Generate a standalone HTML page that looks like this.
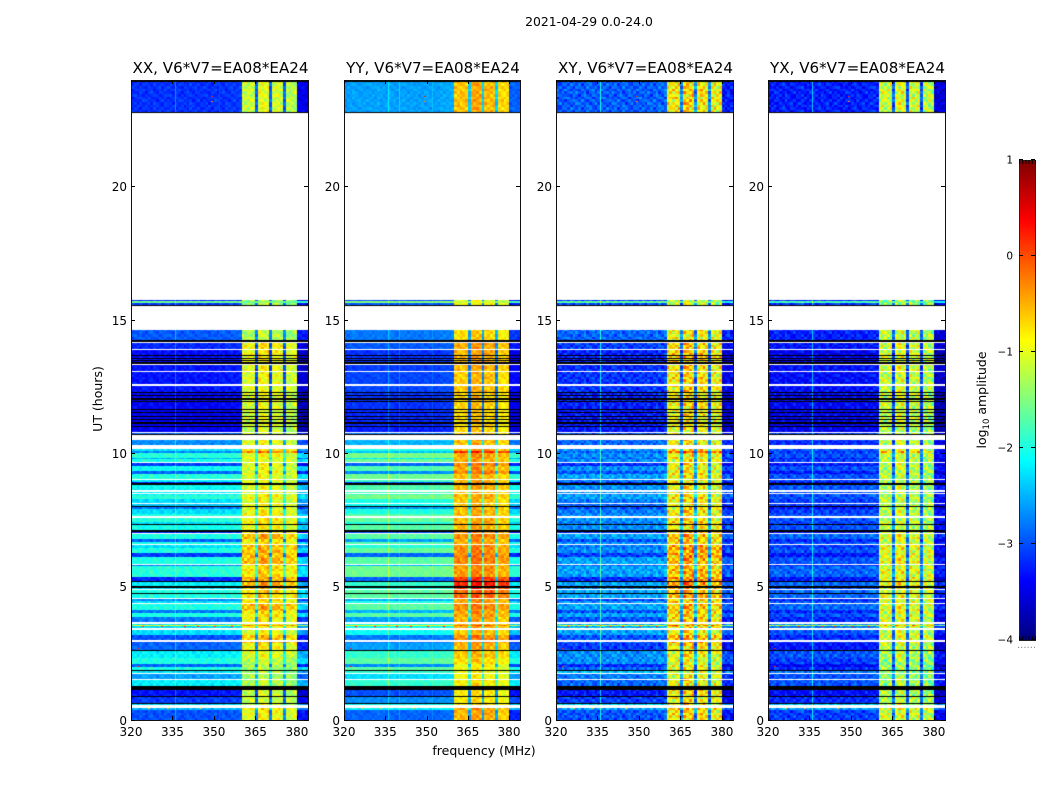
<!DOCTYPE html>
<html>
<head>
<meta charset="utf-8">
<title>2021-04-29 0.0-24.0</title>
<style>
html,body{margin:0;padding:0;background:#fff;width:1050px;height:800px;overflow:hidden}
#figure{position:relative;width:1050px;height:800px;background:#fff}
canvas{position:absolute;top:80px;display:block}
svg{position:absolute;left:0;top:0}
text{font-family:"DejaVu Sans","Liberation Sans",sans-serif;fill:#000}
</style>
</head>
<body>
<div id="figure">
<canvas id="c0" width="177" height="640" style="left:131px"></canvas>
<canvas id="c1" width="176" height="640" style="left:344px"></canvas>
<canvas id="c2" width="177" height="640" style="left:556px"></canvas>
<canvas id="c3" width="177" height="640" style="left:768px"></canvas>
<svg id="overlay" width="1050" height="800" viewBox="0 0 1050 800" xmlns="http://www.w3.org/2000/svg">
<text x="589" y="26" text-anchor="middle" font-size="12.4">2021-04-29 0.0-24.0</text>
<text x="484" y="755" text-anchor="middle" font-size="12.5">frequency (MHz)</text>
<text transform="translate(102,399) rotate(-90)" text-anchor="middle" font-size="12.5">UT (hours)</text>
<text transform="translate(986,400) rotate(-90)" text-anchor="middle" font-size="12.5">log<tspan font-size="8.5" dy="3">10</tspan><tspan dy="-3"> amplitude</tspan></text>
<g id="axes-layer"></g>
<g id="colorbar-layer"></g>
</svg>
</div>
<script>
// ---- axis tick data ----
const freqTicks = [320, 335, 350, 365, 380];
const hourTicks = [0, 5, 10, 15, 20];
const colorTicks = [1, 0, -1, -2, -3, -4];
const colorTickLabels = ['1', '0', '\u22121', '\u22122', '\u22123', '\u22124'];
const panelTitles = ['XX, V6*V7=EA08*EA24', 'YY, V6*V7=EA08*EA24', 'XY, V6*V7=EA08*EA24', 'YX, V6*V7=EA08*EA24'];

// ---- time strips: upper edge of each strip in UT hours ----
const stripTopHour = [.36,.45,.58,.86,1.11,1.48,1.72,1.84,1.97,2.08,2.31,2.61,2.87,3.17,3.36,3.49,3.54,3.64,3.84,4.01,4.10,4.33,4.44,4.55,4.85,5.00,5.19,5.34,5.74,5.83,6.11,6.26,6.43,6.58,6.67,6.77,6.99,7.10,7.29,7.40,7.63,7.70,7.89,8.00,8.12,8.27,8.42,8.64,8.83,8.90,9.02,9.22,9.32,9.50,9.62,9.75,9.82,10.00,10.07,10.14,10.48,10.78,10.97,11.64,12.28,13.03,13.29,13.89,14.23,14.60,15.63,15.69,15.75,23.90];

// ---- log10 amplitude outside the bright band, per strip ----
const lowXX = [-3,-2.5,-2.3,-3.1,-3.3,-2.2,-2.6,-2.25,-2,-2.9,-2,-2.2,-2.9,-3,-2.3,-2.3,-1,-2.3,-2.8,-2,-2.8,-2,-2.3,-2.7,-2,-2.3,-2.2,-3.2,-1.95,-2.8,-2,-3.1,-2,-2.3,-2,-2.9,-2,-3.2,-2.05,-2.3,-1.95,-2,-2.3,-2.8,-2.4,-2.3,-1.95,-2.2,-2.1,-3.2,-2.2,-1.95,-2.9,-2.1,-3.1,-2,-2.5,-1.95,-2.7,-2.3,-2.7,-2.9,-3.45,-3.45,-3.4,-3.3,-3.3,-3.35,-3.2,-2.95,-3.1,-1.6,-3.2,-3.15];
const lowYY = [-2.9,-2.2,-2.1,-2.7,-3,-1.9,-2.3,-1.9,-1.7,-2.7,-1.7,-1.9,-2.6,-2.8,-2.1,-2.1,-.9,-2.1,-2.6,-1.7,-2.5,-1.7,-2,-2.5,-1.7,-2,-1.9,-2.9,-1.6,-2.5,-1.7,-2.9,-1.65,-1.95,-1.7,-2.6,-1.7,-3,-1.7,-2,-1.65,-1.7,-2,-2.6,-2.1,-2,-1.55,-1.8,-1.75,-3,-1.85,-1.6,-2.7,-1.75,-2.9,-1.65,-2.2,-1.55,-2.4,-2,-2.5,-2.8,-3.25,-3.2,-3.15,-3.05,-3.1,-3.15,-2.95,-2.8,-2.95,-1.5,-3.05,-2.6];
const lowXY = [-3,-2.6,-2.3,-3.1,-3.3,-2.9,-2.8,-2.4,-2.9,-3.2,-2.7,-2.7,-3.1,-3,-2.6,-2.5,-1.1,-2.5,-3,-2.6,-3,-2.6,-2.7,-3,-2.6,-2.7,-2.6,-3.2,-2.6,-2.9,-2.6,-3.1,-2.7,-2.8,-2.7,-3,-2.6,-3.2,-2.7,-2.8,-2.7,-2.7,-2.8,-3,-2.9,-2.8,-2.6,-2.7,-2.7,-3.2,-2.8,-2.6,-3,-2.7,-3.2,-2.7,-2.9,-2.7,-2.9,-2.7,-2.9,-3,-3.3,-3.3,-3.25,-3.15,-3.2,-3.25,-3.1,-2.9,-3.05,-1.7,-3.15,-2.95];
const lowYX = [-3.1,-2.6,-2.4,-3.2,-3.35,-3,-3,-2.8,-3.2,-3.4,-3.1,-3,-3.3,-3.2,-3,-2.8,-1.3,-2.7,-3.2,-3,-3.2,-2.9,-3,-3.2,-2.9,-3,-2.9,-3.3,-2.9,-3.2,-3,-3.3,-3,-3.1,-3,-3.2,-2.9,-3.4,-3,-3.1,-3,-3,-3.1,-3.3,-3.1,-3.1,-3,-3,-3,-3.4,-3.1,-3,-3.3,-3,-3.3,-3.1,-3.2,-3,-3.1,-3,-3.2,-3.1,-3.45,-3.45,-3.4,-3.35,-3.35,-3.45,-3.3,-3.25,-3.15,-1.8,-3.25,-3.25];

// ---- log10 amplitude inside the bright band, per strip ----
const bandXX = [-.95,-.8,-1.1,-1.15,-1.15,-1.25,-1.3,-1.3,-1.3,-1.3,-1.2,-1,-.9,-.6,-1,-.9,-.3,-.9,-.9,-.8,-.8,-.5,-.8,-.8,-.7,-.6,-.45,-.5,-.75,-.8,-.5,-.6,-.55,-.6,-.8,-.8,-.5,-.7,-.9,-.8,-.85,-.85,-.9,-1,-.9,-1,-.9,-1,-1,-1,-1,-1,-1,-1,-1,-1,-1,-.95,-.25,-.8,-1,-1.1,-1.15,-1.1,-1.05,-1,-.95,-.9,-.85,-1.25,-1.3,-1.5,-1.3,-1.1];
const bandYY = [-.5,-.4,-.7,-.8,-.8,-.8,-.9,-.9,-.9,-.9,-.7,-.6,-.5,-.3,-.6,-.5,-.1,-.5,-.5,-.4,-.4,-.3,-.4,-.4,-.1,.15,.25,.1,-.35,-.4,-.25,-.3,-.3,-.3,-.45,-.45,-.3,-.4,-.5,-.45,-.5,-.5,-.55,-.6,-.55,-.6,-.5,-.55,-.5,-.4,-.5,-.55,-.25,-.4,-.3,-.5,-.5,-.4,.2,-.4,-.55,-.6,-.7,-.7,-.65,-.6,-.55,-.5,-.45,-.7,-.9,-1.1,-1,-.55];
const bandXY = [-.8,-.6,-.8,-.9,-.85,-.9,-1,-1,-1,-1,-1,-.9,-.8,-.5,-.9,-.8,-.2,-.8,-.8,-.7,-.7,-.6,-.7,-.7,-.55,-.5,-.35,-.4,-.6,-.7,-.5,-.5,-.45,-.5,-.7,-.7,-.55,-.6,-.8,-.7,-.8,-.8,-.8,-.9,-.85,-.9,-.8,-.9,-.9,-.9,-.9,-.9,-.85,-.9,-.85,-.9,-.9,-.85,-.25,-.7,-.85,-1,-1,-.9,-.85,-.8,-.75,-.7,-.7,-.9,-1.1,-1.2,-1.2,-.8];
const bandYX = [-1.1,-.9,-1.2,-1.25,-1.3,-1.35,-1.4,-1.4,-1.4,-1.4,-1.35,-1.25,-1.2,-1,-1.15,-1.1,-.5,-1.1,-1.1,-1.05,-1.05,-1,-1.05,-1.05,-1,-1,-.9,-.95,-1,-1.05,-.95,-1,-1,-1,-1.1,-1.1,-1,-1.1,-1.2,-1.15,-1.2,-1.2,-1.2,-1.25,-1.2,-1.25,-1.2,-1.25,-1.25,-1.25,-1.25,-1.25,-1.2,-1.2,-1.2,-1.2,-1.2,-1.15,-.6,-1.1,-1.2,-1.2,-1.3,-1.2,-1.15,-1.15,-1.1,-1.1,-1.1,-1.2,-1.3,-1.45,-1.4,-1.1];
const lowLevels = [lowXX, lowYY, lowXY, lowYX];
const bandLevels = [bandXX, bandYY, bandXY, bandYX];

// ---- frequency profile, one entry per 1 MHz channel from 320 MHz ----
const channelBandShare = [0,0,0,0,0,0,0,0,0,0,0,0,0,0,0,0,0,0,0,0,0,0,0,0,0,0,0,0,0,0,0,0,0,0,0,0,0,0,0,0,1,1,1,1,1,.12,1,1,1,1,.12,1,1,1,1,.12,1,1,1,1,0,0,0,0];
const channelOffset = [-.05,0,0,.02,0,0,.03,0,0,0,.02,0,.05,0,0,0,.03,0,0,0,0,.02,0,0,.02,0,0,0,0,0,.03,0,0,0,0,.04,.05,.05,.05,.08,-.05,-.05,-.05,-.05,-.05,0,.1,.1,.1,.1,0,0,0,0,0,0,-.15,-.15,-.15,-.15,-.35,-.3,-.3,-.35];

// ---- narrow RFI lines and hot cells ----
const lineFreq = [335.9, 339.9, 351.9];
const lineBoostXX = [.5, .05, .15];
const lineBoostYY = [.45, .3, .2];
const lineBoostXY = [.95, .05, .1];
const lineBoostYX = [.9, .05, .1];
const lineBoost = [lineBoostXX, lineBoostYY, lineBoostXY, lineBoostYX];
const hotHour = [3.51, 3.51, 3.51, 3.51, 3.51, 3.51, .43, .43, .43, 2.7, 2.0, 23.4, 23.2];
const hotFreq = [324, 331, 339, 344, 350, 356, 326, 333, 345, 322, 322, 349, 349];
const hotLevel = [.3, .3, .3, .3, .3, .3, -.6, -.6, -.6, .2, .2, .2, -.4];

// ---- speckle, small hand-typed tile (tenths of a dex) ----
const grainTile = [
 [ 1,-2, 3, 0,-1, 2,-3, 1, 0, 2,-1,-2, 1],
 [-1, 2, 0,-3, 2, 1, 0,-2, 3,-1, 0, 2,-2],
 [ 3, 0,-2, 1,-1,-2, 2, 0,-1, 1, 3,-2, 0],
 [-2, 1, 2,-1, 3, 0,-1, 2,-3, 0, 1,-1, 2],
 [ 0,-1,-2, 2, 0,-3, 1, 3, 0,-2, 2, 1,-1],
 [ 2, 3,-1, 0,-2, 1,-2, 0, 2, 1,-3, 0, 1],
 [-3, 0, 1, 2, 1,-1, 3,-1,-2, 0, 2,-1, 0],
 [ 1,-1, 0,-2, 3, 2,-1, 0, 1,-3, 0, 3,-2],
 [ 0, 2,-3, 1,-1, 0, 2,-2, 3, 1,-1,-2, 1]
];
const panelGrain = [.55, .4, 1.0, .9];

// ---- shared flagged time ranges ----
const whiteStart = [.45,1.48,1.72,2.92,3.36,3.58,4.33,4.52,4.855,5.81,6.54,6.97,7.57,8.08,8.47,8.54,9.0,9.62,10.14,10.48,10.75,11.64,12.49,12.54,13.04,13.30,13.87,14.13,14.60,15.75];
const whiteEnd   = [.54,1.52,1.76,2.98,3.45,3.64,4.37,4.55,4.88,5.85,6.58,7.01,7.63,8.12,8.51,8.62,9.02,9.65,10.29,10.67,10.79,11.66,12.53,12.57,13.06,13.33,13.89,14.15,15.52,22.75];
const blackStart = [.58,.85,1.11,1.81,2.58,4.71,4.94,5.17,7.05,7.29,7.97,8.81,10.67,10.98,11.10,11.23,11.35,11.48,11.60,11.89,12.00,12.13,12.25,13.35,13.44,13.53,13.62,14.15,15.52,22.74,23.90];
const blackEnd   = [.62,.88,1.26,1.85,2.62,4.74,5.00,5.21,7.09,7.33,8.00,8.87,10.70,11.01,11.14,11.27,11.39,11.52,11.64,11.93,12.04,12.17,12.29,13.39,13.48,13.57,13.66,14.25,15.56,22.78,24.00];

// ---- axis functions (local to each axes) ----
const AX_H = 640, F0 = 320, F1 = 384, H1 = 24;
const AX_LEFT = [131, 344, 556, 768], AX_WIDTH = [177, 176, 177, 177], AX_TOP = 80;
function xScale(f, p){ return (f - F0) / (F1 - F0) * AX_WIDTH[p]; }
function yScale(h){ return AX_H - .5 - h / H1 * AX_H; }
const CB_LEFT = 1019, CB_W = 16, CB_TOP = 160, CB_H = 480;
function cbScale(v){ return CB_TOP + (1 - v) / 5 * CB_H; }

function clip(a){ return Math.max(0, Math.min(1, a)); }
function jet(level){
  const t = clip((level + 4) / 5);
  const r = clip(Math.min(4*t - 1.5, -4*t + 4.5));
  const g = clip(Math.min(4*t - 0.5, -4*t + 3.5));
  const b = clip(Math.min(4*t + 0.5, -4*t + 2.5));
  return 'rgb(' + Math.round(r*255) + ',' + Math.round(g*255) + ',' + Math.round(b*255) + ')';
}

function stripAt(h){
  for (let i = 0; i < stripTopHour.length; i++) if (h <= stripTopHour[i]) return i;
  return stripTopHour.length - 1;
}

function drawPanel(p){
  const W = AX_WIDTH[p];
  const ctx = document.getElementById('c' + p).getContext('2d');
  ctx.fillStyle = '#fff';
  ctx.fillRect(0, 0, W, AX_H);
  const low = lowLevels[p], band = bandLevels[p];
  const n = channelBandShare.length;
  for (let y = 0; y < AX_H; y++){
    const hour = (AX_H - 1 - y) / AX_H * H1;
    const s = stripAt(hour);
    const row = Math.floor(y / 2.667);
    const gr = grainTile[(row + p * 4) % grainTile.length];
    for (let c = 0; c < n; c++){
      const x0 = Math.round(xScale(F0 + c, p)), x1 = Math.round(xScale(F0 + c + 1, p));
      const share = channelBandShare[c];
      const jitter = gr[(c + p * 5) % gr.length] * .1 * panelGrain[p] * (1 + share * .9);
      ctx.fillStyle = jet(low[s] + share * (band[s] - low[s]) + channelOffset[c] + jitter);
      ctx.fillRect(x0, y, x1 - x0, 1);
    }
    for (let k = 0; k < lineFreq.length; k++){
      ctx.fillStyle = jet(low[s] + lineBoost[p][k]);
      ctx.fillRect(Math.round(xScale(lineFreq[k], p)), y, 1, 1);
    }
  }
  for (let k = 0; k < hotHour.length; k++){
    ctx.fillStyle = jet(hotLevel[k]);
    ctx.fillRect(Math.round(xScale(hotFreq[k], p)), Math.round(yScale(hotHour[k])), 2, 1);
  }
  ctx.fillStyle = '#fff';
  for (let k = 0; k < whiteStart.length; k++){
    const y0 = Math.round(yScale(whiteEnd[k])), y1 = Math.round(yScale(whiteStart[k]));
    ctx.fillRect(0, y0, W, Math.max(1, y1 - y0));
  }
  ctx.fillStyle = '#000';
  for (let k = 0; k < blackStart.length; k++){
    const y0 = Math.round(yScale(blackEnd[k])), y1 = Math.round(yScale(blackStart[k]));
    ctx.fillRect(0, y0, W, Math.max(1, y1 - y0));
  }
}

const NS = 'http://www.w3.org/2000/svg';
function svgEl(tag, parent){
  const el = document.createElementNS(NS, tag);
  parent.appendChild(el);
  return el;
}
function line(parent, x1, y1, x2, y2, w, col){
  const l = svgEl('line', parent);
  l.setAttribute('x1', x1); l.setAttribute('y1', y1);
  l.setAttribute('x2', x2); l.setAttribute('y2', y2);
  l.setAttribute('stroke', col || '#000');
  l.setAttribute('stroke-width', w || 1);
  return l;
}

function drawAxes(p){
  const layer = document.getElementById('axes-layer');
  const left = AX_LEFT[p], W = AX_WIDTH[p];
  const g = svgEl('g', layer);
  
  

  const frame = svgEl('rect', g);
  frame.setAttribute('x', left + .5);
  frame.setAttribute('y', AX_TOP + .5);
  frame.setAttribute('width', W);
  frame.setAttribute('height', AX_H);
  frame.setAttribute('fill', 'none');
  frame.setAttribute('stroke', '#111');
  frame.setAttribute('stroke-width', '1');
  
  

  const title = svgEl('text', g);
  title.setAttribute('x', left + W / 2 + 1);
  title.setAttribute('y', 73);
  title.setAttribute('text-anchor', 'middle');
  title.setAttribute('font-size', '15.1');
  title.textContent = panelTitles[p];
  
  

  freqTicks.forEach(function(f){
    const x = Math.round(left + xScale(f, p)) + .5;
    const bottom = AX_TOP + AX_H;
    const t1 = line(g, x, bottom, x, bottom - 4);
    
    
    const t2 = line(g, x, AX_TOP, x, AX_TOP + 4);
    
    
    const lab = svgEl('text', g);
    lab.setAttribute('x', left + xScale(f, p));
    lab.setAttribute('y', 736);
    lab.setAttribute('text-anchor', 'middle');
    lab.setAttribute('font-size', '12');
    lab.textContent = String(f);
    
    
  });

  hourTicks.forEach(function(h){
    const y = Math.round(AX_TOP + yScale(h)) + .5;
    const t1 = line(g, left, y, left + 4, y);
    
    
    const t2 = line(g, left + W, y, left + W - 4, y);
    
    
    const lab = svgEl('text', g);
    lab.setAttribute('x', left - 4);
    lab.setAttribute('y', y + 4.5);
    lab.setAttribute('text-anchor', 'end');
    lab.setAttribute('font-size', '12');
    lab.textContent = String(h);
    
    
  });
}

function drawColorbar(){
  const g = document.getElementById('colorbar-layer');
  const steps = 256;
  for (let i = 0; i < steps; i++){
    const v0 = -4 + 5 * i / steps, v1 = -4 + 5 * (i + 1) / steps;
    const r = svgEl('rect', g);
    r.setAttribute('x', CB_LEFT);
    r.setAttribute('y', cbScale(v1));
    r.setAttribute('width', CB_W);
    r.setAttribute('height', cbScale(v0) - cbScale(v1) + .5);
    r.setAttribute('fill', jet((v0 + v1) / 2));
    
    
  }
  const frame = svgEl('rect', g);
  frame.setAttribute('x', CB_LEFT + .5);
  frame.setAttribute('y', CB_TOP + .5);
  frame.setAttribute('width', CB_W);
  frame.setAttribute('height', CB_H);
  frame.setAttribute('fill', 'none');
  frame.setAttribute('stroke', '#222');
  
  

  colorTicks.forEach(function(v, i){
    const y = Math.round(cbScale(v)) - .5;
    const t1 = line(g, CB_LEFT, y, CB_LEFT + 4, y);
    
    
    const t2 = line(g, CB_LEFT + CB_W, y, CB_LEFT + CB_W - 4, y);
    
    
    const lab = svgEl('text', g);
    lab.setAttribute('x', 1013);
    lab.setAttribute('y', y + 4);
    lab.setAttribute('text-anchor', 'end');
    lab.setAttribute('font-size', '10.5');
    lab.textContent = colorTickLabels[i];
    
    
  });
  [0, 1, 2, 3, 4, 5].forEach(function(k){
    const x = CB_LEFT + .5 + k * CB_W / 5;
    const a = line(g, x, CB_TOP, x, CB_TOP + 4);
    
    
    const b = line(g, x, CB_TOP + CB_H, x, CB_TOP + CB_H - 4);
    
    
  });
  const dots = svgEl('text', g);
  dots.setAttribute('x', 1017);
  dots.setAttribute('y', 648);
  dots.setAttribute('font-size', '10');
  dots.setAttribute('style', 'fill:#888');
  dots.textContent = '......';
  
  
}

for (let p = 0; p < 4; p++){ drawPanel(p); drawAxes(p); }
drawColorbar();
</script>
</body>
</html>
